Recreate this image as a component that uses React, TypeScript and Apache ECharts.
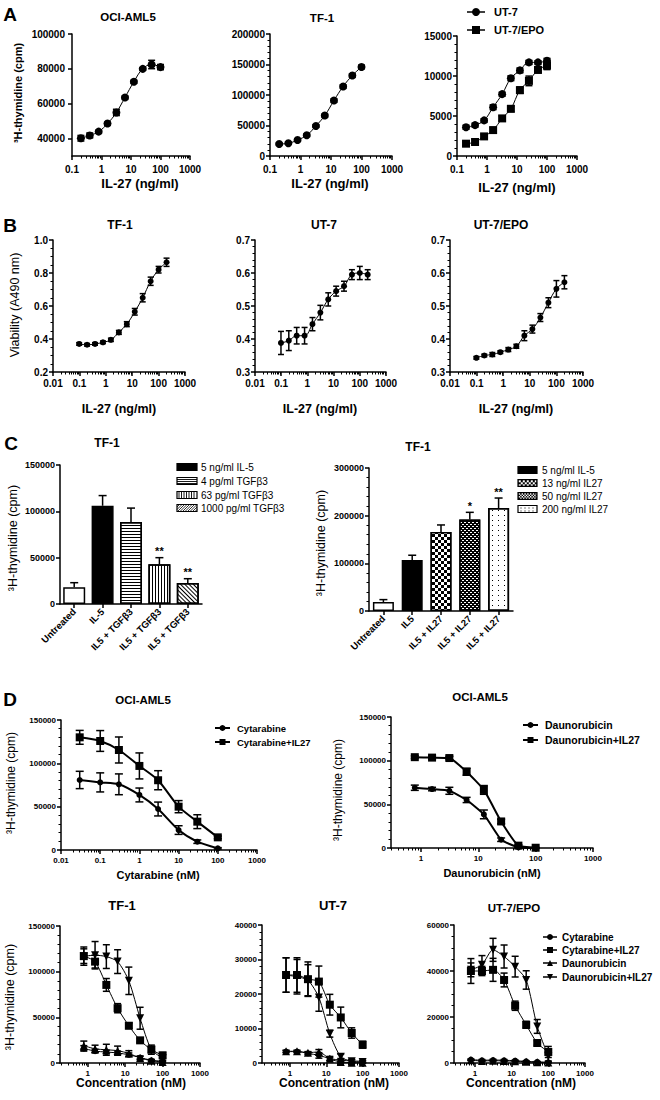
import React, { useEffect, useRef } from 'react';
import * as echarts from 'echarts';

const FONT = '"Liberation Sans", Arial, sans-serif';

// ---------------- Panel A ----------------
const A_DOSE = [0.2, 0.4, 0.8, 1.6, 3.2, 6.25, 12.5, 25, 50, 100];
const A1_OCI = [40200, 41800, 44000, 48600, 55000, 63600, 72600, 80000, 82500, 81000];
const A1_OCI_ERR = [1600, 1400, 700, 700, 1800, 700, 800, 700, 2400, 1500];
const A2_TF1 = [19700, 20800, 26300, 34000, 49300, 66300, 91000, 114000, 132000, 146000];
const A2_TF1_ERR = [1500, 1500, 2000, 2000, 2000, 2000, 2500, 2500, 2500, 3000];
const A3_UT7 = [3600, 3860, 4450, 6100, 7730, 9720, 10700, 11700, 11700, 11900];
const A3_UT7_ERR = [250, 250, 200, 300, 250, 300, 300, 250, 200, 300];
const A3_EPO = [1540, 1750, 2450, 3240, 4700, 5900, 8230, 9390, 10760, 11300];
const A3_EPO_ERR = [200, 300, 250, 300, 300, 350, 400, 600, 350, 500];
const A1_Y_TICKS = [40000, 60000, 80000, 100000];
const A_X_TICKS = [0.1, 1, 10, 100, 1000];

// ---------------- Panel B ----------------
const B_DOSE = [0.098, 0.195, 0.39, 0.78, 1.56, 3.125, 6.25, 12.5, 25, 50, 100, 200];
const B1_TF1 = [0.37, 0.365, 0.37, 0.38, 0.395, 0.44, 0.49, 0.565, 0.65, 0.75, 0.82, 0.865];
const B1_TF1_ERR = [0.008, 0.008, 0.008, 0.008, 0.01, 0.012, 0.015, 0.02, 0.025, 0.025, 0.02, 0.025];
const B2_UT7 = [0.388, 0.395, 0.41, 0.41, 0.445, 0.48, 0.52, 0.545, 0.56, 0.595, 0.6, 0.595];
const B2_UT7_ERR = [0.035, 0.03, 0.025, 0.025, 0.02, 0.022, 0.02, 0.015, 0.015, 0.015, 0.02, 0.015];
const B3_EPO = [0.343, 0.35, 0.353, 0.36, 0.368, 0.378, 0.41, 0.43, 0.465, 0.51, 0.552, 0.572];
const B3_EPO_ERR = [0.004, 0.004, 0.006, 0.004, 0.006, 0.006, 0.015, 0.012, 0.012, 0.015, 0.025, 0.02];
const B_X_TICKS = [0.01, 0.1, 1, 10, 100, 1000];

// ---------------- Panel C ----------------
const C1_CATS = ['Untreated', 'IL-5', 'IL5 + TGFβ3', 'IL5 + TGFβ3', 'IL5 + TGFβ3'];
const C1_VAL = [18000, 106000, 88500, 43000, 22600];
const C1_ERR = [5000, 11000, 15000, 7000, 4700];
const C1_SIG = ['', '', '', '**', '**'];
const C1_LEGEND = ['5 ng/ml IL-5', '4 pg/ml TGFβ3', '63 pg/ml TGFβ3', '1000 pg/ml TGFβ3'];
const C2_CATS = ['Untreated', 'IL5', 'IL5 + IL27', 'IL5 + IL27', 'IL5 + IL27'];
const C2_VAL = [18900, 107000, 165500, 192000, 216000];
const C2_ERR = [5000, 10000, 15000, 15000, 21000];
const C2_SIG = ['', '', '', '*', '**'];
const C2_LEGEND = ['5 ng/ml IL-5', '13 ng/ml IL27', '50 ng/ml IL27', '200 ng/ml IL27'];

// ---------------- Panel D ----------------
const D1_DOSE = [0.03, 0.1, 0.3, 1, 3, 10, 30, 100];
const D1_CYT = [80800, 78000, 75800, 63500, 47300, 23000, 9600, 1900];
const D1_CYT_ERR = [10000, 11000, 12000, 8000, 8000, 5000, 2000, 800];
const D1_CYTIL = [130000, 125800, 115400, 97000, 80500, 50000, 32700, 14600];
const D1_CYTIL_ERR = [8000, 12000, 15000, 15000, 11000, 7000, 8000, 1500];
const D_DOSE = [0.78, 1.56, 3.125, 6.25, 12.5, 25, 50, 100];
const D2_DAU = [69000, 67500, 65500, 55000, 38500, 9500, 800, 0];
const D2_DAU_ERR = [3000, 2000, 4000, 3000, 5000, 2000, 500, 300];
const D2_DAUIL = [104000, 103500, 103000, 87300, 66500, 30400, 2700, 300];
const D2_DAUIL_ERR = [1500, 2000, 2000, 4000, 5000, 2500, 1000, 300];
const D3_CYT = [16000, 13000, 12000, 11000, 9000, 6000, 3000, 2000];
const D3_CYT_ERR = [3000, 2000, 2000, 2000, 2000, 1500, 1000, 1000];
const D3_CYTIL = [117000, 111000, 85500, 60000, 40800, 24800, 14600, 8400];
const D3_CYTIL_ERR = [8000, 7000, 7000, 5000, 3000, 2000, 3000, 3000];
const D3_DAU = [19000, 15500, 14500, 13500, 10500, 5500, 2500, 1000];
const D3_DAU_ERR = [5000, 4000, 6000, 5000, 3000, 2000, 1000, 1000];
const D3_DAUIL = [117000, 118000, 116500, 111000, 90000, 49000, 14600, 5500];
const D3_DAUIL_ERR = [10000, 15000, 13000, 13000, 15000, 12000, 5000, 3000];
const D4_CYT = [3300, 3300, 2800, 2200, 1300, 800, 600, 500];
const D4_CYT_ERR = [300, 300, 400, 800, 600, 500, 400, 300];
const D4_CYTIL = [25500, 25500, 24300, 23600, 16900, 13200, 8700, 5300];
const D4_CYTIL_ERR = [5000, 5000, 5000, 4500, 3000, 3000, 1500, 1000];
const D4_DAU = [3400, 3400, 3000, 3200, 1200, 300, 100, 50];
const D4_DAU_ERR = [300, 300, 300, 700, 400, 200, 100, 50];
const D4_DAUIL = [25500, 25000, 24000, 19000, 8500, 1800, 500, 300];
const D4_DAUIL_ERR = [5000, 5000, 4500, 4000, 1000, 800, 500, 300];
const D5_CYT = [1500, 1200, 1300, 1200, 1000, 700, 500, 300];
const D5_CYT_ERR = [300, 300, 300, 300, 300, 300, 200, 200];
const D5_CYTIL = [40000, 40000, 40500, 36100, 24900, 16600, 8700, 4800];
const D5_CYTIL_ERR = [5400, 2000, 5000, 3000, 2000, 1500, 1000, 2400];
const D5_DAU = [1200, 900, 1000, 900, 800, 500, 300, 200];
const D5_DAU_ERR = [200, 200, 200, 200, 200, 200, 100, 100];
const D5_DAUIL = [40500, 42700, 49200, 46300, 41900, 36100, 15900, 2900];
const D5_DAUIL_ERR = [3000, 4000, 5000, 5000, 4500, 4000, 3000, 2000];
const D1_X_TICKS = [0.01, 0.1, 1, 10, 100, 1000];
const D_X_TICKS = [1, 10, 100, 1000];
const D_NAMES = ['Cytarabine', 'Cytarabine+IL27', 'Daunorubicin', 'Daunorubicin+IL27'];

// ---------------- helpers ----------------
const DOWN_TRI = 'path://M0,0L10,0L5,9Z';
const fmtLog = (v: number) => {
  const p = Math.round(v);
  return p < 0 ? Math.pow(10, p).toFixed(-p) : String(Math.pow(10, p));
};

function buildOption() {
  const grids: any[] = [];
  const xAxes: any[] = [];
  const yAxes: any[] = [];
  const series: any[] = [];
  const gfx: any[] = [];

  const axLine = () => ({ show: true, onZero: false, lineStyle: { color: '#000', width: 1.5 } });

  const errRender = (capW: number, lw: number) => (params: any, api: any) => {
    const x = api.value(0);
    const lo = api.value(1);
    const hi = api.value(2);
    const a = api.coord([x, hi]);
    const b = api.coord([x, lo]);
    const st = { stroke: '#000', lineWidth: lw };
    return {
      type: 'group',
      children: [
        { type: 'line', shape: { x1: a[0], y1: a[1], x2: b[0], y2: b[1] }, style: st },
        { type: 'line', shape: { x1: a[0] - capW, y1: a[1], x2: a[0] + capW, y2: a[1] }, style: st },
        { type: 'line', shape: { x1: b[0] - capW, y1: b[1], x2: b[0] + capW, y2: b[1] }, style: st },
      ],
    };
  };

  function addLogPanel(c: any) {
    const g = grids.length;
    grids.push({ left: c.rect[0], top: c.rect[1], width: c.rect[2], height: c.rect[3], containLabel: false });
    const lmin = Math.log10(c.xMin);
    const lmax = Math.log10(c.xMax);
    const majors = c.xTicks.map((v: number) => Math.round(Math.log10(v)));
    const minors: number[] = [];
    for (let k = Math.floor(lmin); k < Math.ceil(lmax); k++) {
      for (let m = 2; m <= 9; m++) {
        const v = Math.log10(m) + k;
        if (v >= lmin - 1e-9 && v <= lmax + 1e-9) minors.push(v);
      }
    }
    const xi = xAxes.length;
    const lab = { fontSize: c.fs, fontWeight: 'bold', fontFamily: FONT, color: '#000' };
    xAxes.push({
      type: 'value', gridIndex: g, position: 'bottom', min: lmin, max: lmax,
      axisLine: axLine(),
      axisTick: { show: true, customValues: majors, length: 4, lineStyle: { color: '#000', width: 1.5 } },
      axisLabel: { show: true, customValues: majors, formatter: fmtLog, margin: c.xm, ...lab },
      splitLine: { show: false },
    });
    xAxes.push({
      type: 'value', gridIndex: g, position: 'bottom', min: lmin, max: lmax,
      axisLine: { show: false, onZero: false },
      axisTick: { show: true, customValues: minors, length: 2.5, lineStyle: { color: '#000', width: 1 } },
      axisLabel: { show: false },
      splitLine: { show: false },
    });
    const yi = yAxes.length;
    yAxes.push({
      type: 'value', gridIndex: g, min: c.yMin, max: c.yMax, interval: c.yInt,
      axisLine: axLine(),
      axisTick: { show: true, length: 4, customValues: c.yTicks, lineStyle: { color: '#000', width: 1.5 } },
      minorTick: { show: !!c.yMinor, splitNumber: c.yMinor || 5, length: 2.5, lineStyle: { color: '#000', width: 1 } },
      axisLabel: { customValues: c.yTicks, margin: c.ym, formatter: c.yFmt || ((v: number) => String(Math.round(v))), ...lab },
      splitLine: { show: false },
    });
    c.series.forEach((s: any) => {
      const pts = s.x.map((x: number, i: number) => [Math.log10(x), s.y[i]]);
      const eb = s.x.map((x: number, i: number) => [Math.log10(x), Math.max(c.yMin, s.y[i] - s.err[i]), Math.min(c.yMax, s.y[i] + s.err[i])]);
      series.push({
        type: 'custom', name: s.name + ' err', xAxisIndex: xi, yAxisIndex: yi, z: 3,
        renderItem: errRender(c.cap, c.elw), data: eb, encode: { x: 0, y: [1, 2] }, silent: true,
      });
      series.push({
        type: 'line', name: s.name, xAxisIndex: xi, yAxisIndex: yi, data: pts, z: 4,
        smooth: c.smooth, symbol: s.symbol, symbolSize: s.size,
        itemStyle: { color: '#000', borderWidth: 0 }, lineStyle: { color: '#000', width: c.lw },
        silent: true,
      });
    });
  }

  function addBarPanel(c: any) {
    const g = grids.length;
    grids.push({ left: c.rect[0], top: c.rect[1], width: c.rect[2], height: c.rect[3], containLabel: false });
    const xi = xAxes.length;
    const lab = { fontSize: 9, fontWeight: 'bold', fontFamily: FONT, color: '#000' };
    xAxes.push({
      type: 'category', gridIndex: g, data: c.cats,
      axisLine: axLine(),
      axisTick: { show: true, alignWithLabel: true, length: 4, lineStyle: { color: '#000', width: 1.5 } },
      axisLabel: { interval: 0, rotate: 45, margin: 6, ...lab, fontSize: 9.5 },
    });
    const yi = yAxes.length;
    yAxes.push({
      type: 'value', gridIndex: g, min: 0, max: c.yMax, interval: c.yInt,
      axisLine: axLine(),
      axisTick: { show: true, length: 4, lineStyle: { color: '#000', width: 1.5 } },
      minorTick: { show: !!c.yMinor, splitNumber: c.yMinor || 5, length: 2.5, lineStyle: { color: '#000', width: 1 } },
      axisLabel: { margin: 5, formatter: (v: number) => String(Math.round(v)), ...lab },
      splitLine: { show: false },
    });
    series.push({
      type: 'bar', xAxisIndex: xi, yAxisIndex: yi, barWidth: c.bw, z: 2, silent: true,
      itemStyle: { borderColor: '#000', borderWidth: 1.5 },
      data: c.vals.map((v: number, i: number) => ({ value: v, itemStyle: c.styles[i] })),
    });
    const sig = c.sig;
    series.push({
      type: 'custom', xAxisIndex: xi, yAxisIndex: yi, z: 3, silent: true,
      data: c.vals.map((v: number, i: number) => [i, v, v + c.err[i]]),
      encode: { x: 0, y: [1, 2] },
      renderItem: (params: any, api: any) => {
        const i = api.value(0);
        const a = api.coord([i, api.value(2)]);
        const b = api.coord([i, api.value(1)]);
        const st = { stroke: '#000', lineWidth: 1.5 };
        const ch: any[] = [
          { type: 'line', shape: { x1: a[0], y1: a[1], x2: b[0], y2: b[1] }, style: st },
          { type: 'line', shape: { x1: a[0] - 4, y1: a[1], x2: a[0] + 4, y2: a[1] }, style: st },
        ];
        const s = sig[params.dataIndex];
        if (s) {
          ch.push({
            type: 'text', x: a[0], y: a[1] - 1,
            style: { text: s, fill: '#000', font: `bold 11px ${FONT}`, align: 'center', verticalAlign: 'bottom', textAlign: 'center', textVerticalAlign: 'bottom' },
          });
        }
        return { type: 'group', children: ch };
      },
    });
  }

  const txt = (text: string, x: number, y: number, size: number, o: any = {}) => ({
    type: 'text', x, y, rotation: o.rot || 0, silent: true, z: 10,
    style: {
      text, fill: '#000', font: `${o.w || 'bold'} ${size}px ${FONT}`,
      align: o.align || 'center', verticalAlign: 'middle',
      textAlign: o.align || 'center', textVerticalAlign: 'middle',
    },
  });

  const marker = (sym: string, cx: number, cy: number, sz: number) => {
    const h = sz / 2;
    if (sym === 'circle') return { type: 'circle', shape: { cx, cy, r: h }, style: { fill: '#000' } };
    if (sym === 'rect') return { type: 'rect', shape: { x: cx - h, y: cy - h, width: sz, height: sz }, style: { fill: '#000' } };
    if (sym === 'triangle') return { type: 'polygon', shape: { points: [[cx - h, cy + h], [cx + h, cy + h], [cx, cy - h]] }, style: { fill: '#000' } };
    return { type: 'polygon', shape: { points: [[cx - h, cy - h], [cx + h, cy - h], [cx, cy + h]] }, style: { fill: '#000' } };
  };

  const lineLegend = (names: string[], syms: string[], x1: number, x2: number, ys: number[], tx: number, fs: number, lw: number, sz: number) => {
    names.forEach((n, i) => {
      gfx.push({
        type: 'group', silent: true, children: [
          { type: 'line', shape: { x1, y1: ys[i], x2, y2: ys[i] }, style: { stroke: '#000', lineWidth: lw } },
          marker(syms[i], (x1 + x2) / 2, ys[i], sz),
        ],
      });
      gfx.push(txt(n, tx, ys[i], fs, { align: 'left' }));
    });
  };

  const swatch = (x: number, y: number, w: number, h: number, kind: string) => {
    const els: any[] = [];
    const dark = kind === 'black' || kind === 'checker' || kind === 'fine';
    els.push({ type: 'rect', shape: { x, y, width: w, height: h }, style: { fill: dark ? '#000' : '#fff', stroke: '#000', lineWidth: 1.2 } });
    const L = (x1: number, y1: number, x2: number, y2: number, lw = 1) =>
      els.push({ type: 'line', shape: { x1, y1, x2, y2 }, style: { stroke: '#000', lineWidth: lw } });
    if (kind === 'h') for (let yy = y + 2; yy < y + h - 0.5; yy += 2) L(x, yy, x + w, yy, 0.9);
    if (kind === 'v') for (let xx = x + 2; xx < x + w - 0.5; xx += 2.5) L(xx, y, xx, y + h, 0.9);
    if (kind === 'd') {
      for (let d = -h; d < w; d += 2.5) {
        const t0 = Math.max(0, -d);
        const t1 = Math.min(h, w - d);
        if (t1 > t0) L(x + d + t0, y + h - t0, x + d + t1, y + h - t1, 0.8);
      }
    }
    if (kind === 'checker' || kind === 'fine') {
      const s = kind === 'checker' ? 2 : 1.4;
      let r = 0;
      for (let yy = 0.8; yy < h - 0.8; yy += s, r++) {
        for (let xx = 0.8 + (r % 2) * s; xx < w - 0.8; xx += 2 * s) {
          els.push({ type: 'rect', shape: { x: x + xx, y: y + yy, width: Math.min(s, w - 0.8 - xx), height: Math.min(s, h - 0.8 - yy) }, style: { fill: '#fff' } });
        }
      }
    }
    if (kind === 'dots') {
      for (let yy = 2; yy < h - 1; yy += 3) for (let xx = 2.5; xx < w - 1; xx += 4) {
        els.push({ type: 'rect', shape: { x: x + xx, y: y + yy, width: 1, height: 1 }, style: { fill: '#000' } });
      }
    }
    return { type: 'group', silent: true, children: els };
  };

  // ---------------- A ----------------
  addLogPanel({
    rect: [72, 34, 118, 122], xMin: 0.1, xMax: 1000, xTicks: A_X_TICKS, fs: 10, xm: 8, ym: 7,
    yMin: 30000, yMax: 100000, yTicks: A1_Y_TICKS, smooth: 0.4, lw: 1, cap: 3.5, elw: 1.5,
    series: [{ name: 'OCI-AML5', x: A_DOSE, y: A1_OCI, err: A1_OCI_ERR, symbol: 'circle', size: 8 }],
  });
  addLogPanel({
    rect: [270, 34, 122, 122], xMin: 0.1, xMax: 1000, xTicks: A_X_TICKS, fs: 10, xm: 8, ym: 5,
    yMin: 0, yMax: 200000, yInt: 50000, yMinor: 5, smooth: 0.4, lw: 1, cap: 3.5, elw: 1.5,
    series: [{ name: 'TF-1', x: A_DOSE, y: A2_TF1, err: A2_TF1_ERR, symbol: 'circle', size: 8 }],
  });
  addLogPanel({
    rect: [457, 36, 120, 120], xMin: 0.1, xMax: 1000, xTicks: A_X_TICKS, fs: 10, xm: 8, ym: 5,
    yMin: 0, yMax: 15000, yInt: 5000, yMinor: 5, smooth: 0.4, lw: 1, cap: 3.5, elw: 1.5,
    series: [
      { name: 'UT-7', x: A_DOSE, y: A3_UT7, err: A3_UT7_ERR, symbol: 'circle', size: 8 },
      { name: 'UT-7/EPO', x: A_DOSE, y: A3_EPO, err: A3_EPO_ERR, symbol: 'rect', size: 8 },
    ],
  });

  // ---------------- B ----------------
  const bFmt = (v: number) => v.toFixed(1);
  addLogPanel({
    rect: [53, 240, 132, 132], xMin: 0.01, xMax: 1000, xTicks: B_X_TICKS, fs: 10, xm: 6, ym: 5,
    yMin: 0.2, yMax: 1.0, yInt: 0.2, yMinor: 4, yFmt: bFmt, smooth: 0.4, lw: 1, cap: 3, elw: 1.5,
    series: [{ name: 'TF-1 B', x: B_DOSE, y: B1_TF1, err: B1_TF1_ERR, symbol: 'circle', size: 6 }],
  });
  addLogPanel({
    rect: [255, 240, 131, 132], xMin: 0.01, xMax: 1000, xTicks: B_X_TICKS, fs: 10, xm: 6, ym: 5,
    yMin: 0.3, yMax: 0.7, yInt: 0.1, yMinor: 5, yFmt: bFmt, smooth: 0.4, lw: 1, cap: 3, elw: 1.5,
    series: [{ name: 'UT-7 B', x: B_DOSE, y: B2_UT7, err: B2_UT7_ERR, symbol: 'circle', size: 6 }],
  });
  addLogPanel({
    rect: [450, 240, 133, 132], xMin: 0.01, xMax: 1000, xTicks: B_X_TICKS, fs: 10, xm: 6, ym: 5,
    yMin: 0.3, yMax: 0.7, yInt: 0.1, yMinor: 5, yFmt: bFmt, smooth: 0.4, lw: 1, cap: 3, elw: 1.5,
    series: [{ name: 'UT-7/EPO B', x: B_DOSE, y: B3_EPO, err: B3_EPO_ERR, symbol: 'circle', size: 6 }],
  });

  // ---------------- C ----------------
  const stripe = (rot: number, dy: number[], color = '#000') => ({
    symbol: 'rect', symbolSize: 1, color, dashArrayX: [1, 0], dashArrayY: dy, rotation: rot,
  });
  addBarPanel({
    rect: [60, 465, 142, 139], cats: C1_CATS, vals: C1_VAL, err: C1_ERR, sig: C1_SIG,
    yMax: 150000, yInt: 50000, yMinor: 0, bw: 22,
    styles: [
      { color: '#fff' },
      { color: '#000' },
      { color: '#fff', decal: stripe(0, [1, 2]) },
      { color: '#fff', decal: stripe(Math.PI / 2, [1, 2]) },
      { color: '#fff', decal: stripe(Math.PI / 4, [1, 1.6]) },
    ],
  });
  addBarPanel({
    rect: [369, 468, 144, 143], cats: C2_CATS, vals: C2_VAL, err: C2_ERR, sig: C2_SIG,
    yMax: 300000, yInt: 100000, yMinor: 5, bw: 21,
    styles: [
      { color: '#fff' },
      { color: '#000' },
      { color: '#000', decal: { symbol: 'rect', symbolSize: 1, color: '#fff', dashArrayX: [[3, 3], [0, 3, 3, 0]], dashArrayY: [3, 0] } },
      { color: '#000', decal: { symbol: 'rect', symbolSize: 1, color: '#fff', dashArrayX: [[2, 2], [0, 2, 2, 0]], dashArrayY: [1, 1] } },
      { color: '#fff', decal: { symbol: 'rect', symbolSize: 1, color: '#000', dashArrayX: [1, 5], dashArrayY: [1, 4] } },
    ],
  });

  // ---------------- D ----------------
  const dSeries = (x: number[], ys: number[][], errs: number[][], syms: string[], names: string[]) =>
    ys.map((y, i) => ({ name: names[i], x, y, err: errs[i], symbol: syms[i], size: syms[i] === 'circle' ? 6 : 8 }));
  const SYM4 = ['circle', 'rect', 'triangle', DOWN_TRI];
  addLogPanel({
    rect: [61, 720, 196, 130], xMin: 0.01, xMax: 1000, xTicks: D1_X_TICKS, fs: 8, xm: 6, ym: 5,
    yMin: 0, yMax: 150000, yInt: 50000, yMinor: 5, smooth: 0.25, lw: 2, cap: 4, elw: 1.5,
    series: dSeries(D1_DOSE, [D1_CYT, D1_CYTIL], [D1_CYT_ERR, D1_CYTIL_ERR], ['circle', 'rect'], ['Cytarabine', 'Cytarabine+IL27']),
  });
  addLogPanel({
    rect: [391, 717, 202, 131], xMin: 0.3, xMax: 1000, xTicks: D_X_TICKS, fs: 8, xm: 6, ym: 5,
    yMin: 0, yMax: 150000, yInt: 50000, yMinor: 5, smooth: 0.15, lw: 2, cap: 4, elw: 1.5,
    series: dSeries(D_DOSE, [D2_DAU, D2_DAUIL], [D2_DAU_ERR, D2_DAUIL_ERR], ['circle', 'rect'], ['Daunorubicin', 'Daunorubicin+IL27']),
  });
  addLogPanel({
    rect: [60, 926, 140, 137], xMin: 0.18, xMax: 1000, xTicks: D_X_TICKS, fs: 8, xm: 6, ym: 5,
    yMin: 0, yMax: 150000, yInt: 50000, yMinor: 5, smooth: 0.25, lw: 1, cap: 3.5, elw: 1.5,
    series: dSeries(D_DOSE, [D3_CYT, D3_CYTIL, D3_DAU, D3_DAUIL], [D3_CYT_ERR, D3_CYTIL_ERR, D3_DAU_ERR, D3_DAUIL_ERR], SYM4, D_NAMES),
  });
  addLogPanel({
    rect: [262, 925, 137, 138], xMin: 0.17, xMax: 1000, xTicks: D_X_TICKS, fs: 8, xm: 6, ym: 5,
    yMin: 0, yMax: 40000, yInt: 10000, yMinor: 5, smooth: 0.25, lw: 1, cap: 3.5, elw: 1.5,
    series: dSeries(D_DOSE, [D4_CYT, D4_CYTIL, D4_DAU, D4_DAUIL], [D4_CYT_ERR, D4_CYTIL_ERR, D4_DAU_ERR, D4_DAUIL_ERR], SYM4, D_NAMES),
  });
  addLogPanel({
    rect: [454, 925, 131, 138], xMin: 0.27, xMax: 1000, xTicks: D_X_TICKS, fs: 8, xm: 6, ym: 5,
    yMin: 0, yMax: 60000, yInt: 20000, yMinor: 4, smooth: 0.25, lw: 1, cap: 3.5, elw: 1.5,
    series: dSeries(D_DOSE, [D5_CYT, D5_CYTIL, D5_DAU, D5_DAUIL], [D5_CYT_ERR, D5_CYTIL_ERR, D5_DAU_ERR, D5_DAUIL_ERR], SYM4, D_NAMES),
  });

  // ---------------- texts ----------------
  const YL = '³H-thymidine (cpm)';
  const XL = 'IL-27 (ng/ml)';
  gfx.push(txt('A', 10, 14, 19));
  gfx.push(txt('B', 10, 225, 19));
  gfx.push(txt('C', 11, 443, 19));
  gfx.push(txt('D', 10, 699, 19));

  gfx.push(txt('OCI-AML5', 128, 17, 11.5));
  gfx.push(txt('TF-1', 322, 18, 11.5));
  gfx.push(txt(YL, 18, 93, 11, { rot: Math.PI / 2 }));
  gfx.push(txt(XL, 140, 183, 13));
  gfx.push(txt(XL, 330, 183, 13));
  gfx.push(txt(XL, 517, 187, 13));
  lineLegend(['UT-7', 'UT-7/EPO'], ['circle', 'rect'], 467, 485, [12, 30], 494, 11, 1.5, 8);

  gfx.push(txt('TF-1', 120, 225, 12));
  gfx.push(txt('UT-7', 324, 225, 12));
  gfx.push(txt('UT-7/EPO', 501, 225, 12));
  gfx.push(txt('Viability (A490 nm)', 15, 305, 12.5, { rot: Math.PI / 2, w: 'normal' }));
  gfx.push(txt(XL, 119, 409, 12.5));
  gfx.push(txt(XL, 320, 409, 12.5));
  gfx.push(txt(XL, 516, 409, 12.5));

  gfx.push(txt('TF-1', 107, 443, 12));
  gfx.push(txt('TF-1', 418, 447, 12));
  gfx.push(txt(YL, 13, 538, 12.5, { rot: Math.PI / 2, w: 'normal' }));
  gfx.push(txt(YL, 321, 543, 12.5, { rot: Math.PI / 2, w: 'normal' }));
  const c1Kinds = ['black', 'h', 'v', 'd'];
  const c1Y = [467, 481, 495, 508];
  C1_LEGEND.forEach((n, i) => {
    gfx.push(swatch(177, c1Y[i] - 3.5, 20, 7, c1Kinds[i]));
    gfx.push(txt(n, 201, c1Y[i], 10, { align: 'left', w: 'normal' }));
  });
  const c2Kinds = ['black', 'checker', 'fine', 'dots'];
  const c2Y = [470, 483, 496, 509];
  C2_LEGEND.forEach((n, i) => {
    gfx.push(swatch(518, c2Y[i] - 3.5, 19, 7, c2Kinds[i]));
    gfx.push(txt(n, 542, c2Y[i], 10, { align: 'left', w: 'normal' }));
  });

  gfx.push(txt('OCI-AML5', 143, 700, 11.5));
  gfx.push(txt('OCI-AML5', 480, 697, 11.5));
  gfx.push(txt(YL, 11, 783, 12, { rot: Math.PI / 2, w: 'normal' }));
  gfx.push(txt(YL, 338, 790, 12, { rot: Math.PI / 2, w: 'normal' }));
  gfx.push(txt('Cytarabine (nM)', 158, 875, 11));
  gfx.push(txt('Daunorubicin (nM)', 492, 873, 11));
  lineLegend(['Cytarabine', 'Cytarabine+IL27'], ['circle', 'rect'], 215, 230, [728, 742], 237, 9.5, 2, 6);
  lineLegend(['Daunorubicin', 'Daunorubicin+IL27'], ['circle', 'rect'], 523, 538, [725, 740], 545, 10.5, 2, 6);

  gfx.push(txt('TF-1', 122, 905, 13));
  gfx.push(txt('UT-7', 333, 905, 13));
  gfx.push(txt('UT-7/EPO', 514, 908, 11.5));
  gfx.push(txt(YL, 10, 997, 12.5, { rot: Math.PI / 2, w: 'normal' }));
  gfx.push(txt('Concentration (nM)', 131, 1083, 12));
  gfx.push(txt('Concentration (nM)', 334, 1083, 12));
  gfx.push(txt('Concentration (nM)', 521, 1083, 12));
  lineLegend(D_NAMES, SYM4.map((s) => (s === DOWN_TRI ? 'down' : s)), 543, 557, [937, 950, 963, 977], 562, 10, 1.5, 6);

  return {
    animation: false,
    backgroundColor: '#fff',
    textStyle: { fontFamily: FONT },
    grid: grids,
    xAxis: xAxes,
    yAxis: yAxes,
    series,
    graphic: { elements: gfx },
  };
}

export default function App() {
  const ref = useRef<HTMLDivElement>(null);
  useEffect(() => {
    if (!ref.current) return;
    const chart = echarts.init(ref.current, null, { renderer: 'svg' });
    chart.setOption(buildOption() as any);
    return () => chart.dispose();
  }, []);
  return (
    <div
      ref={ref}
      style={{ position: 'absolute', left: 0, top: 0, width: 660, height: 1100, background: '#fff' }}
    />
  );
}
